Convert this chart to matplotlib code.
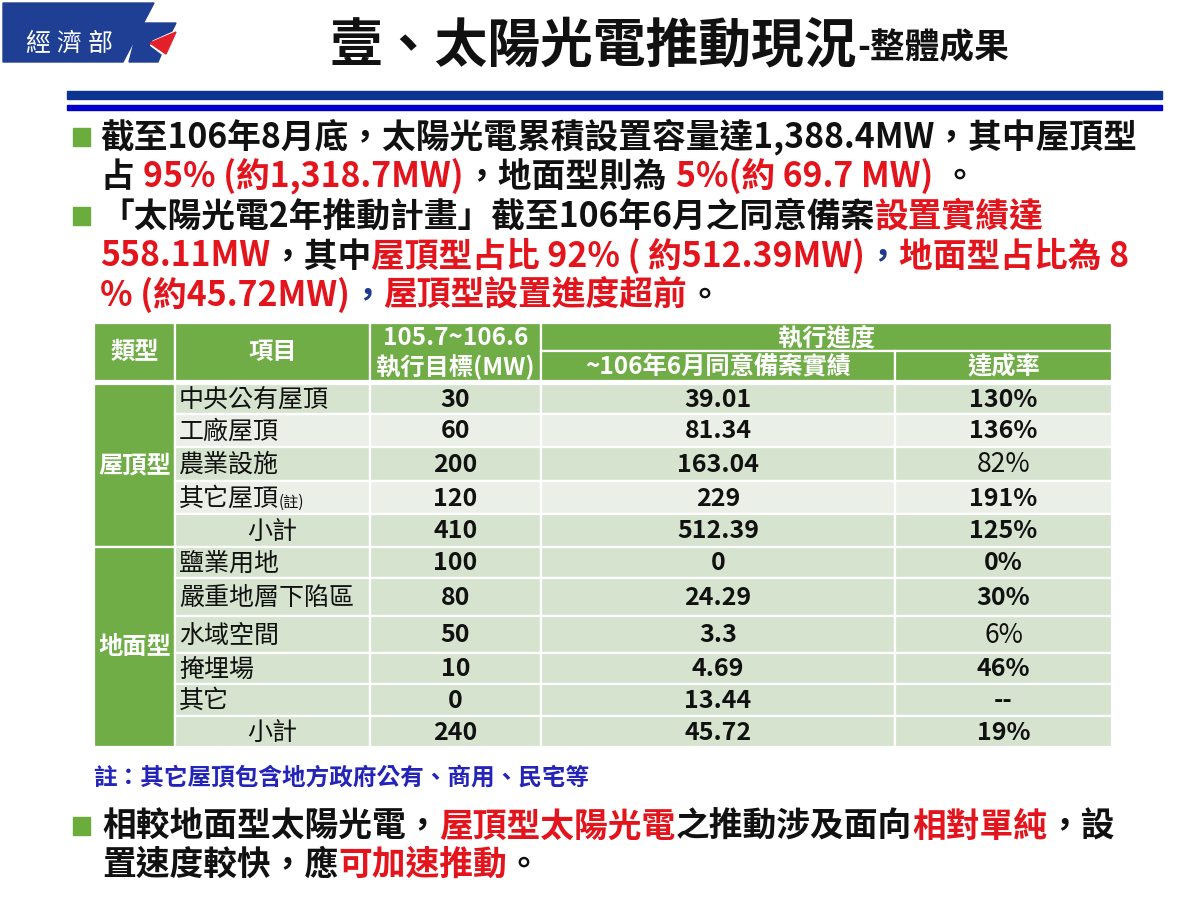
import matplotlib.pyplot as plt
from matplotlib.patches import Rectangle, Polygon

plt.rcParams['font.family'] = ['Noto Sans CJK TC', 'DejaVu Sans']

RED = '#E3141C'
BLK = '#111111'
NAVY = '#1F3A8F'

# table data
types = ['屋頂型', '地面型']
items = ['中央公有屋頂', '工廠屋頂', '農業設施', '其它屋頂', '小計',
         '鹽業用地', '嚴重地層下陷區', '水域空間', '掩埋場', '其它', '小計']
group = [0, 0, 0, 0, 0, 1, 1, 1, 1, 1, 1]
targets = ['30', '60', '200', '120', '410', '100', '80', '50', '10', '0', '240']
actual = ['39.01', '81.34', '163.04', '229', '512.39', '0', '24.29', '3.3', '4.69', '13.44', '45.72']
rates = ['130%', '136%', '82%', '191%', '125%', '0%', '30%', '6%', '46%', '--', '19%']
header1 = ['類型', '項目', '105.7~106.6', '執行進度']
header2 = ['執行目標(MW)', '~106年6月同意備案實績', '達成率']

# layout
col_edges = [94, 175, 370, 541, 895, 1112]
row_edges = [384, 414, 447, 481, 514, 547, 578, 616, 653, 684, 716, 747]
head_top, head_mid, head_bot = 323, 351, 381
GREEN = '#70AD47'
DARK = '#D6E3CF'
LIGHT = '#EAF0E7'

fig = plt.figure(figsize=(11.8, 9), dpi=100)
ax = fig.add_axes([0, 0, 1, 1])
ax.set_xlim(0, 1180)
ax.set_ylim(900, 0)
ax.axis('off')
r = fig.canvas.get_renderer()


def runs(x, y, parts, size, weight='bold', va='center'):
    sp = size * 100 / 72 * 0.28
    for s, c in parts:
        x += sp * (len(s) - len(s.lstrip(' ')))
        t = ax.text(x, y, s.strip(' '), color=c, fontsize=size, weight=weight, va=va, ha='left')
        bb = t.get_window_extent(renderer=r)
        x = ax.transData.inverted().transform((bb.x1, bb.y0))[0]
        x += sp * (len(s) - len(s.rstrip(' ')))
    return x


def cell(x0, x1, y0, y1, fc):
    ax.add_patch(Rectangle((x0, y0), x1 - x0, y1 - y0, facecolor=fc, edgecolor='white', linewidth=1.6))


# logo
LB = '#1E3F94'
ax.add_patch(Polygon([(3, 3), (154, 3), (123, 62), (3, 62)], closed=True, color=LB))
ax.add_patch(Polygon([(139, 23), (176, 23), (172, 31), (152, 40), (149, 46), (161, 55), (158, 62), (129, 62)],
                     closed=True, color=LB))
ax.add_patch(Polygon([(150, 43), (176, 32), (166, 54)], closed=True, color='#E3202A'))
for k, ch in enumerate('經濟部'):
    ax.text(38 + k * 31, 44, ch, color='white', fontsize=18, ha='center', va='center')

# title
x = runs(330, 61, [('壹、太陽光電推動現況', BLK)], 38, va='baseline')
runs(x, 58, [('-整體成果', BLK)], 25, va='baseline')

# rules under title
ax.add_patch(Rectangle((67, 91), 1095, 8, color='#0B3590'))
ax.add_patch(Rectangle((67, 105), 1095, 5, color='#0000CC'))

# bullets
BG = '#6AAD3D'
for by in [128, 207, 817]:
    ax.add_patch(Rectangle((73, by), 17, 18, color=BG))

fs = 24.3
runs(100, 137, [('截至106年8月底，太陽光電累積設置容量達1,388.4MW，其中屋頂型', BLK)], fs)
runs(100, 176, [('占 ', BLK), ('95% (約1,318.7MW)', RED), ('，地面型則為 ', BLK),
                ('5%(約 69.7 MW)', RED), (' 。', BLK)], fs)
runs(100, 216, [('「太陽光電2年推動計畫」截至106年6月之同意備案', BLK), ('設置實績達', RED)], fs)
runs(100, 256, [('558.11MW', RED), ('，其中', BLK), ('屋頂型占比 92% ( 約512.39MW)', RED),
                ('，', NAVY), ('地面型占比為 8', RED)], fs)
runs(100, 295, [('% (約45.72MW)', RED), ('，', NAVY), ('屋頂型設置進度超前', RED), ('。', BLK)], fs)

# table header
cell(col_edges[0], col_edges[1], head_top, head_bot, GREEN)
cell(col_edges[1], col_edges[2], head_top, head_bot, GREEN)
cell(col_edges[2], col_edges[3], head_top, head_bot, GREEN)
cell(col_edges[3], col_edges[5], head_top, head_mid, GREEN)
cell(col_edges[3], col_edges[4], head_mid, head_bot, GREEN)
cell(col_edges[4], col_edges[5], head_mid, head_bot, GREEN)
hm = (head_top + head_bot) / 2
h1 = (head_top + head_mid) / 2 + 1
h2 = (head_mid + head_bot) / 2 + 1
hfs = 17.5
for i, lab in enumerate(header1[:3]):
    cx = (col_edges[i] + col_edges[i + 1]) / 2
    ax.text(cx, hm if i < 2 else h1, lab, color='white', fontsize=hfs, weight='bold', ha='center', va='center')
ax.text((col_edges[3] + col_edges[5]) / 2, h1, header1[3], color='white', fontsize=hfs, weight='bold',
        ha='center', va='center')
for i, lab in enumerate(header2):
    cx = (col_edges[i + 2] + col_edges[i + 3]) / 2
    ax.text(cx, h2, lab, color='white', fontsize=hfs, weight='bold', ha='center', va='center')

# table body
tfs = 18
for g, name in enumerate(types):
    rows = [i for i in range(len(items)) if group[i] == g]
    y0, y1 = row_edges[rows[0]], row_edges[rows[-1] + 1]
    cell(col_edges[0], col_edges[1], y0, y1, GREEN)
    ax.text((col_edges[0] + col_edges[1]) / 2, (y0 + y1) / 2, name, color='white', fontsize=17.5,
            weight='bold', ha='center', va='center')

for i in range(len(items)):
    y0, y1 = row_edges[i], row_edges[i + 1]
    fc = LIGHT if (group[i] == 0 and i % 2 == 1) else DARK
    for c in range(1, 5):
        cell(col_edges[c], col_edges[c + 1], y0, y1, fc)
    cy = (y0 + y1) / 2 + 1
    if items[i] == '小計':
        ax.text((col_edges[1] + col_edges[2]) / 2, cy, items[i], fontsize=tfs, color=BLK,
                ha='center', va='center')
    elif items[i] == '其它屋頂':
        xe = runs(col_edges[1] + 4, cy, [(items[i], BLK)], tfs, weight='normal')
        ax.text(xe, cy + 4, '(註)', fontsize=11, color=BLK, ha='left', va='center')
    else:
        runs(col_edges[1] + 4, cy, [(items[i], BLK)], tfs, weight='normal')
    for c, v in zip([2, 3, 4], [targets[i], actual[i], rates[i]]):
        w = 'normal' if v in ('82%', '6%') else 'bold'
        ax.text((col_edges[c] + col_edges[c + 1]) / 2, cy, v, fontsize=tfs + (1 if w == 'normal' else 0),
                weight=w, color=BLK, ha='center', va='center')

# note
ax.text(93, 778, '註：其它屋頂包含地方政府公有、商用、民宅等', color='#2424B8', fontsize=17,
        weight='bold', ha='left', va='center')

# last bullet
runs(102, 826, [('相較地面型太陽光電，', BLK), ('屋頂型太陽光電', RED), ('之推動涉及面向', BLK),
                ('相對單純', RED), ('，設', BLK)], fs)
runs(102, 864, [('置速度較快，應', BLK), ('可加速推動', RED), ('。', BLK)], fs)

fig.savefig('out.png', dpi=100)
